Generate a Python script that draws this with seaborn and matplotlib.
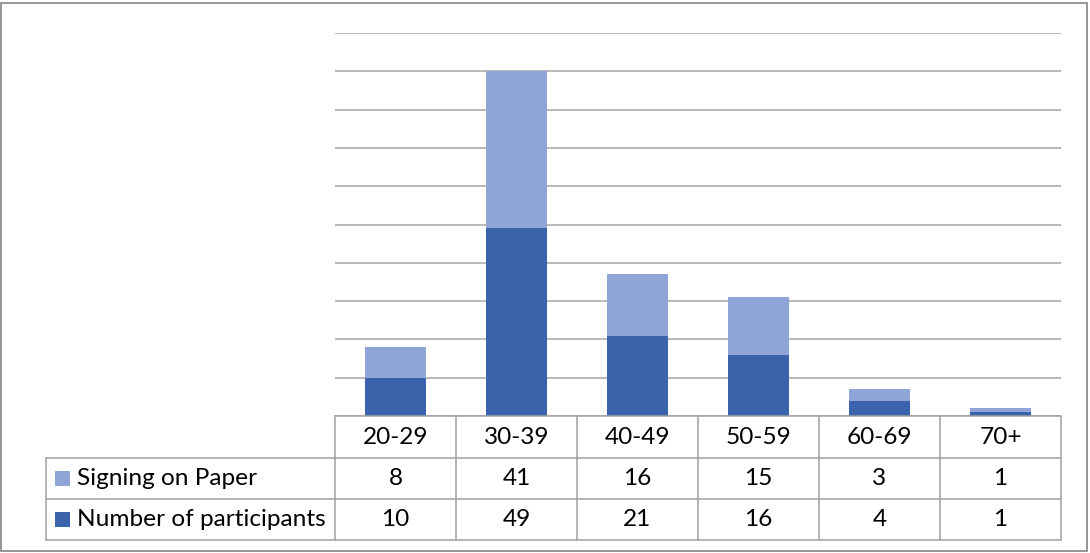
import matplotlib
matplotlib.use("Agg")
import matplotlib.pyplot as plt
from matplotlib.lines import Line2D
from matplotlib.patches import Rectangle
import seaborn as sns
import pandas as pd

# Age groups and the two series shown in the chart and its data table
age_groups = ["20-29", "30-39", "40-49", "50-59", "60-69", "70+"]
signing_on_paper = [8, 41, 16, 15, 3, 1]
participants = [10, 49, 21, 16, 4, 1]

series_names = ["Signing on Paper", "Number of participants"]
light_blue = "#8FA5D5"
dark_blue = "#3A63AC"
grid_gray = "#A6A6A6"
table_gray = "#A0A0A0"

sns.set_theme(style="white")
plt.rcParams["font.family"] = ["Lato", "DejaVu Sans"]

W, H = 1090, 553
fig = plt.figure(figsize=(W / 100, H / 100), dpi=100)


def fx(x):
    return x / W


def fy(y):
    return 1 - y / H


# Plot area (pixel box)
left, right, top, base = 335, 1061, 33, 416
ax = fig.add_axes([fx(left), fy(base), fx(right) - fx(left), fy(top) - fy(base)])

df = pd.DataFrame({
    "age": age_groups,
    "total": [a + b for a, b in zip(signing_on_paper, participants)],
    "participants": participants,
})

# Stacked bars: full height in the light colour, participants drawn over it
sns.barplot(data=df, x="age", y="total", color=light_blue, width=0.51,
            saturation=1, linewidth=0, ax=ax, zorder=3)
sns.barplot(data=df, x="age", y="participants", color=dark_blue, width=0.51,
            saturation=1, linewidth=0, ax=ax, zorder=4)

ax.set_ylim(0, 100)
ax.set_xlim(-0.5, len(age_groups) - 0.5)
ax.set_yticks(range(0, 101, 10))
ax.yaxis.grid(True, color=grid_gray, linewidth=1.1)
ax.set_axisbelow(True)
ax.set_xticks([])
ax.set_yticklabels([])
ax.tick_params(left=False, bottom=False)
ax.set_xlabel("")
ax.set_ylabel("")
for s in ax.spines.values():
    s.set_visible(False)

# Data table beneath the plot
col_w = (right - left) / len(age_groups)
row_edges = [416, 458, 499, 540]
label_left = 46
font_size = 17.6


def hline(x0, x1, y):
    fig.add_artist(Line2D([fx(x0), fx(x1)], [fy(y), fy(y)], color=table_gray,
                          linewidth=1.1, transform=fig.transFigure))


def vline(x, y0, y1):
    fig.add_artist(Line2D([fx(x), fx(x)], [fy(y0), fy(y1)], color=table_gray,
                          linewidth=1.1, transform=fig.transFigure))


hline(left, right, row_edges[0])
for y in row_edges[1:]:
    hline(label_left, right, y)
vline(label_left, row_edges[1], row_edges[3])
for i in range(len(age_groups) + 1):
    vline(left + i * col_w, row_edges[0], row_edges[3])

for i, g in enumerate(age_groups):
    cx = left + (i + 0.5) * col_w
    fig.text(fx(cx), fy((row_edges[0] + row_edges[1]) / 2), g,
             ha="center", va="center", fontsize=font_size, color="black")
    fig.text(fx(cx), fy((row_edges[1] + row_edges[2]) / 2), str(signing_on_paper[i]),
             ha="center", va="center", fontsize=font_size, color="black")
    fig.text(fx(cx), fy((row_edges[2] + row_edges[3]) / 2), str(participants[i]),
             ha="center", va="center", fontsize=font_size, color="black")

for r, (name, color) in enumerate(zip(series_names, [light_blue, dark_blue])):
    yc = (row_edges[r + 1] + row_edges[r + 2]) / 2
    fig.add_artist(Rectangle((fx(55), fy(yc + 7.5)), fx(15), fy(0) - fy(15),
                             facecolor=color, edgecolor="none",
                             transform=fig.transFigure))
    fig.text(fx(77), fy(yc), name, ha="left", va="center",
             fontsize=font_size, color="black")

# Chart border
fig.add_artist(Rectangle((fx(1), fy(551)), fx(1087) - fx(1), fy(3) - fy(551),
                         facecolor="none", edgecolor="#8C8C8C", linewidth=1.3,
                         transform=fig.transFigure))

fig.savefig("out.png", dpi=100)
